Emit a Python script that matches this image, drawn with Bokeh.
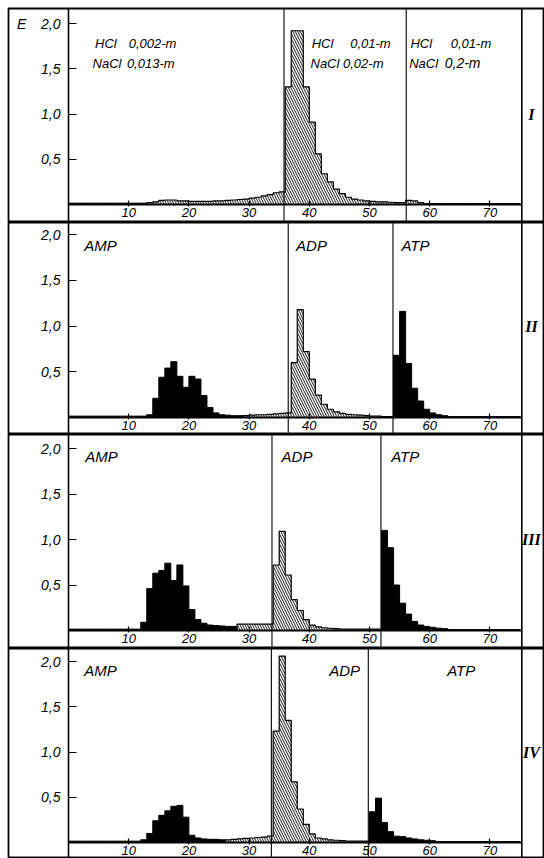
from bokeh.plotting import figure
from bokeh.layouts import column
from bokeh.models import Range1d, FixedTicker, Span, Label
from bokeh.embed import file_html
from bokeh.resources import INLINE

# ---------------- data (fraction number -> extinction E) ----------------
FRACTION_START = 0  # bins are [k, k+1)

E_I = ([0.015] * 13 +
       [0.02, 0.03, 0.045, 0.05, 0.05, 0.04, 0.04, 0.035, 0.035, 0.035, 0.035, 0.04,
        0.04, 0.045, 0.05, 0.055, 0.06, 0.07, 0.08, 0.095, 0.11, 0.13, 0.14] +
       [1.30, 1.92, 1.92, 1.30, 0.91, 0.56, 0.34, 0.25, 0.17, 0.12, 0.08, 0.06,
        0.05, 0.04, 0.035, 0.03, 0.03, 0.025, 0.02, 0.02, 0.045, 0.04, 0.02] +
       [0.01] * 16)
KIND_I = "b" * 13 + "h" * 46 + "b" * 16

E_II = ([0.015] * 13 +
        [0.03, 0.21, 0.44, 0.54, 0.61, 0.45, 0.33, 0.45, 0.42, 0.24, 0.11, 0.05,
         0.03, 0.025, 0.02, 0.02] +
        [0.02, 0.025, 0.03, 0.03, 0.035, 0.04, 0.045, 0.05] +
        [0.60, 1.18, 0.72, 0.42, 0.245, 0.145, 0.09, 0.062, 0.045, 0.035, 0.03,
         0.025, 0.02, 0.015, 0.015, 0.01, 0.01] +
        [0.68, 1.16, 0.59, 0.32, 0.18, 0.09, 0.05, 0.03, 0.02] +
        [0.01] * 12)
KIND_II = "b" * 29 + "h" * 25 + "b" * 21

E_III = ([0.015] * 12 +
         [0.09, 0.46, 0.63, 0.66, 0.74, 0.55, 0.72, 0.49, 0.23, 0.12, 0.08, 0.06,
          0.055, 0.05, 0.045, 0.045] +
         [0.07] * 6 +
         [0.72, 1.09, 0.61, 0.34, 0.22, 0.12, 0.06, 0.04, 0.03, 0.025, 0.02,
          0.015, 0.015, 0.015, 0.015, 0.015, 0.015, 0.015] +
         [1.10, 0.91, 0.50, 0.30, 0.18, 0.10, 0.06, 0.045, 0.035, 0.025, 0.02] +
         [0.01] * 12)
KIND_III = "b" * 28 + "h" * 24 + "b" * 23

E_IV = ([0.015] * 12 +
        [0.03, 0.10, 0.24, 0.30, 0.35, 0.40, 0.41, 0.28, 0.08, 0.05, 0.04, 0.035,
         0.035, 0.03] +
        [0.03, 0.035, 0.04, 0.045, 0.05, 0.055, 0.06, 0.07] +
        [1.23, 2.06, 1.35, 0.67, 0.37, 0.20, 0.095, 0.05, 0.04, 0.03, 0.025, 0.02,
         0.015, 0.015, 0.015, 0.015] +
        [0.34, 0.49, 0.22, 0.12, 0.07, 0.065, 0.05, 0.04, 0.03, 0.025, 0.02] +
        [0.01] * 14)
KIND_IV = "b" * 26 + "h" * 24 + "b" * 25

# eluent change positions (fraction numbers) and end of the record
DIVIDERS_I = [35.8, 56.1]
DIVIDERS_II = [36.5, 53.9]
DIVIDERS_III = [33.8, 51.9]
DIVIDERS_IV = [33.7, 49.8]
RECORD_END = 75.3

Y_TICKS = [0.5, 1.0, 1.5, 2.0]
Y_TICK_LABELS = ["0,5", "1,0", "1,5", "2,0"]
X_TICKS = [10, 20, 30, 40, 50, 60, 70]
X_TICK_LABELS = ["10", "20", "30", "40", "50", "60", "70"]
Y_AXIS_TITLE = "E"

PANEL_NAMES = ["I", "II", "III", "IV"]

# ---------------- styling / layout ----------------
SANS = "Liberation Sans"
SERIF = "Liberation Serif"
PX_PER_UNIT_X = 6.02
WIDTH = 544
LEFT_MARGIN = 8
AXIS_PX = 60            # frame left edge -> y axis
# (frame height, baseline px from frame top, px per unit E, top margin)
GEOM = [(214, 196, 90.5, 8), (212, 195, 91.5, 0), (214, 196, 91.0, 0), (210, 194, 90.5, 0)]


def step_poly(start, vals):
    xs, ys = [start], [0.0]
    for i, v in enumerate(vals):
        xs += [start + i, start + i + 1]
        ys += [v, v]
    xs.append(start + len(vals))
    ys.append(0.0)
    return xs, ys


def runs(kinds):
    out = []
    s = 0
    for i in range(1, len(kinds) + 1):
        if i == len(kinds) or kinds[i] != kinds[s]:
            out.append((s, i, kinds[s]))
            s = i
    return out


def make_panel(E, kinds, dividers, geom, first, texts, roman):
    fh, base, ppu, top = geom
    frame_w = WIDTH - LEFT_MARGIN
    x0 = -AXIS_PX / PX_PER_UNIT_X
    x1 = (frame_w - AXIS_PX) / PX_PER_UNIT_X
    yt = base / ppu
    yb = -(fh - base) / ppu
    p = figure(width=WIDTH, height=fh + top, x_range=Range1d(x0, x1), y_range=Range1d(yb, yt),
               output_backend="svg", toolbar_location=None, min_border=0)
    p.min_border_left = LEFT_MARGIN
    p.min_border_right = 0
    p.min_border_top = top
    p.min_border_bottom = 0
    p.title.visible = False
    p.grid.visible = False
    p.background_fill_color = "white"
    p.border_fill_color = "white"
    p.outline_line_color = "black"
    p.outline_line_width = 1.8

    # histogram blocks
    for s, e, k in runs(kinds):
        xs, ys = step_poly(FRACTION_START + s, E[s:e])
        if k == "b":
            p.patch(xs, ys, fill_color="black", line_color="black", line_width=1)
        else:
            p.patch(xs, ys, fill_color="white", hatch_pattern="\\", hatch_color="black",
                    hatch_scale=5, hatch_weight=0.9, line_color="black", line_width=1.2)

    for d in dividers:
        p.add_layout(Span(location=d, dimension="height", line_color="black", line_width=1.1))
    p.add_layout(Span(location=RECORD_END, dimension="height", line_color="black", line_width=1.6))

    # axes (drawn at x=0 / E=0 inside the frame)
    xa = p.xaxis[0]
    xa.fixed_location = 0
    xa.bounds = (0, RECORD_END)
    xa.ticker = FixedTicker(ticks=X_TICKS)
    xa.major_label_overrides = {t: l for t, l in zip(X_TICKS, X_TICK_LABELS)}
    xa.minor_tick_line_color = None
    xa.major_tick_in = 4
    xa.major_tick_out = 2
    xa.major_label_standoff = 1
    xa.axis_line_width = 1.8
    xa.major_tick_line_width = 1.2
    xa.major_label_text_font = SANS
    xa.major_label_text_font_style = "italic"
    xa.major_label_text_font_size = "13px"
    xa.major_label_text_color = "black"

    ya = p.yaxis[0]
    ya.fixed_location = 0
    ya.ticker = FixedTicker(ticks=Y_TICKS)
    ya.major_label_overrides = {t: l for t, l in zip(Y_TICKS, Y_TICK_LABELS)}
    ya.minor_tick_line_color = None
    ya.major_tick_in = 8
    ya.major_tick_out = 0
    ya.major_label_standoff = 8
    ya.axis_line_width = 1.6
    ya.major_tick_line_width = 1.2
    ya.major_label_text_font = SANS
    ya.major_label_text_font_style = "italic"
    ya.major_label_text_font_size = "14px"
    ya.major_label_text_color = "black"

    if first:
        p.add_layout(Label(x=-7.8, y=2.0, text=Y_AXIS_TITLE, text_font=SANS,
                           text_font_style="italic", text_font_size="14px",
                           text_baseline="middle", text_align="center", text_color="black"))

    for (tx, ty, txt, fs) in texts:
        p.add_layout(Label(x=tx, y=ty, text=txt, text_font=SANS, text_font_style="italic",
                           text_font_size=fs, text_baseline="middle", text_align="left",
                           text_color="black"))
    p.add_layout(Label(x=76.9, y=1.0, text=roman, text_font=SERIF,
                       text_font_style="bold italic", text_font_size="16px",
                       text_baseline="middle", text_align="center", text_color="black"))
    return p


S = "13px"
L = "15px"
texts_I = [(4.4, 1.78, "HCl", S), (10.0, 1.78, "0,002-m", S), (4.0, 1.56, "NaCl", S), (9.7, 1.56, "0,013-m", S),
           (40.4, 1.78, "HCl", S), (46.8, 1.78, "0,01-m", S), (40.2, 1.56, "NaCl", S), (45.6, 1.56, "0,02-m", S),
           (56.8, 1.78, "HCl", S), (63.5, 1.78, "0,01-m", S), (56.6, 1.56, "NaCl", S), (62.5, 1.56, "0,2-m", "14px")]
texts_II = [(2.6, 1.88, "AMP", L), (37.8, 1.88, "ADP", L), (55.3, 1.88, "ATP", L)]
texts_III = [(2.8, 1.91, "AMP", L), (35.4, 1.91, "ADP", L), (53.6, 1.91, "ATP", L)]
texts_IV = [(2.6, 1.90, "AMP", L), (43.3, 1.90, "ADP", L), (62.9, 1.90, "ATP", L)]

panels = [
    make_panel(E_I, KIND_I, DIVIDERS_I, GEOM[0], True, texts_I, PANEL_NAMES[0]),
    make_panel(E_II, KIND_II, DIVIDERS_II, GEOM[1], False, texts_II, PANEL_NAMES[1]),
    make_panel(E_III, KIND_III, DIVIDERS_III, GEOM[2], False, texts_III, PANEL_NAMES[2]),
    make_panel(E_IV, KIND_IV, DIVIDERS_IV, GEOM[3], False, texts_IV, PANEL_NAMES[3]),
]

layout = column(*panels, spacing=0)
open("out.html", "w").write(file_html(layout, INLINE))
